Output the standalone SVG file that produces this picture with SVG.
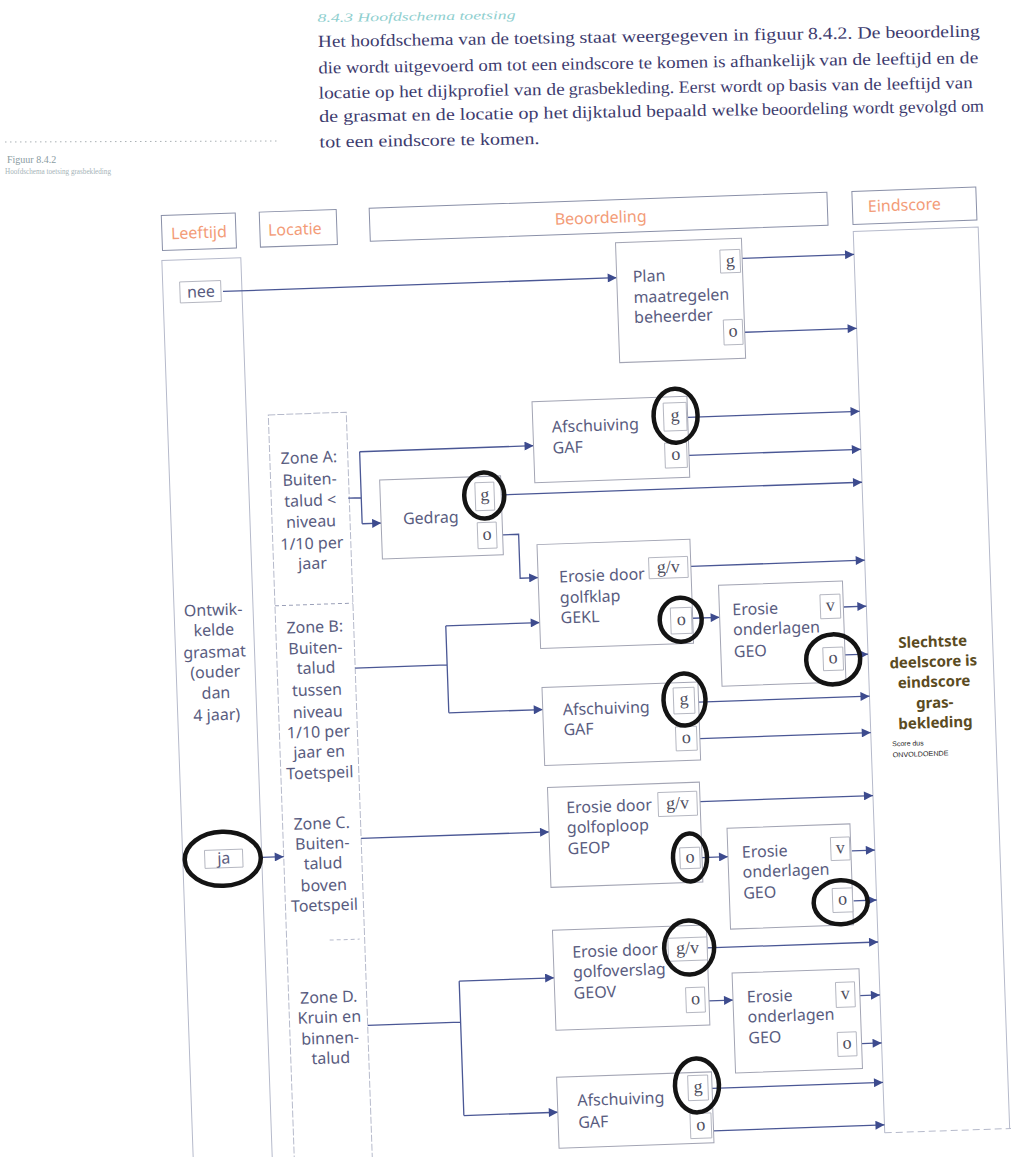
<svg xmlns="http://www.w3.org/2000/svg" width="1011" height="1157" viewBox="0 0 1011 1157">
<style>
.col{fill:none;stroke:#b6bacb;stroke-width:1}
.hdr{fill:#fff;stroke:#8a90a8;stroke-width:1}
.hdrt{font-family:"Noto Sans",sans-serif;font-size:16px;fill:#f39c78;text-anchor:middle}
.box{fill:#fff;stroke:#a3a5b4;stroke-width:1}
.lbl{fill:#fff;stroke:#aeb0bb;stroke-width:0.9}
.t{font-family:"Noto Sans",sans-serif;font-size:16px;fill:#595c80}
.tc{text-anchor:middle}
.s{font-family:"Liberation Serif",serif;font-size:18px;fill:#4e4e5e;text-anchor:middle}
.cn{fill:none;stroke:#4a5795;stroke-width:1.3}
.ar{marker-end:url(#ah)}
.ann{fill:none;stroke:#141414;stroke-width:4.5}
.par{font-family:"Liberation Serif",serif;font-size:17px;fill:#3d3b6e}
</style>
<defs>
<marker id="ah" viewBox="0 0 10 10" refX="10" refY="5" markerWidth="11" markerHeight="9" markerUnits="userSpaceOnUse" orient="auto"><path d="M0,0 L10,5 L0,10 z" fill="#3d4b8e"/></marker>
</defs>
<rect x="0" y="0" width="1011" height="1157" fill="#fff"/>

<g id="page-text" transform="rotate(-0.9 318 47)">
<text x="318" y="22" font-family="Liberation Serif, serif" font-style="italic" font-size="12" fill="#8fcfcf" textLength="198" lengthAdjust="spacingAndGlyphs">8.4.3 Hoofdschema toetsing</text>
<text class="par" x="318" y="47" textLength="257" lengthAdjust="spacingAndGlyphs">Het hoofdschema van de toetsing</text>
<text class="par" x="579.5" y="47" textLength="224" lengthAdjust="spacingAndGlyphs">staat weergegeven in figuur</text>
<text class="par" x="808" y="47" textLength="172" lengthAdjust="spacingAndGlyphs">8.4.2. De beoordeling</text>
<text class="par" x="318" y="73.5" textLength="239" lengthAdjust="spacingAndGlyphs">die wordt uitgevoerd om tot een</text>
<text class="par" x="561" y="73.5" textLength="254" lengthAdjust="spacingAndGlyphs">eindscore te komen is afhankelijk</text>
<text class="par" x="819" y="73.5" textLength="159" lengthAdjust="spacingAndGlyphs">van de leeftijd en de</text>
<text class="par" x="318" y="98.5" textLength="246" lengthAdjust="spacingAndGlyphs">locatie op het dijkprofiel van de</text>
<text class="par" x="568" y="98.5" textLength="216" lengthAdjust="spacingAndGlyphs">grasbekleding. Eerst wordt op</text>
<text class="par" x="788" y="98.5" textLength="184" lengthAdjust="spacingAndGlyphs">basis van de leeftijd van</text>
<text class="par" x="318" y="122" textLength="249" lengthAdjust="spacingAndGlyphs">de grasmat en de locatie op het</text>
<text class="par" x="571" y="122" textLength="186" lengthAdjust="spacingAndGlyphs">dijktalud bepaald welke</text>
<text class="par" x="761" y="122" textLength="222" lengthAdjust="spacingAndGlyphs">beoordeling wordt gevolgd om</text>
<text class="par" x="318" y="147.5" textLength="220" lengthAdjust="spacingAndGlyphs">tot een eindscore te komen.</text>
</g>

<g id="caption">
<line x1="5" y1="142" x2="278" y2="141" stroke="#a9b0b4" stroke-width="1" stroke-dasharray="1.5 3.5"/>
<text x="7" y="163" font-family="Liberation Serif, serif" font-size="10" fill="#8a9ca2">Figuur 8.4.2</text>
<text x="5" y="174" font-family="Liberation Serif, serif" font-size="8" fill="#a6b4b8" textLength="106" lengthAdjust="spacingAndGlyphs">Hoofdschema toetsing grasbekleding</text>
</g>

<g id="diagram" transform="rotate(-2 500 660)">

<g id="hdr-leeftijd"><rect class="hdr" x="177" y="204" width="74" height="35"/><text class="hdrt" x="214" y="228" fill="#f28c72">Leeftijd</text></g>
<g id="hdr-locatie"><rect class="hdr" x="275" y="204" width="77" height="35"/><text class="hdrt" x="310" y="228">Locatie</text></g>
<g id="hdr-beoordeling"><rect class="hdr" x="385" y="204" width="458" height="33" stroke="#70748a"/><text class="hdrt" x="616" y="227">Beoordeling</text></g>
<g id="hdr-eindscore"><rect class="hdr" x="868" y="204" width="124" height="33"/><text class="hdrt" x="920" y="225">Eindscore</text></g>

<g id="col-leeftijd">
<rect class="col" x="176" y="249" width="79" height="960"/>
<text class="t tc" x="215" y="605.5">Ontwik-</text>
<text class="t tc" x="215" y="625.5">kelde</text>
<text class="t tc" x="215" y="647.5">grasmat</text>
<text class="t tc" x="215" y="667.5">(ouder</text>
<text class="t tc" x="215" y="688.5">dan</text>
<text class="t tc" x="215" y="710.5">4 jaar)</text>
</g>
<g id="nee"><rect class="lbl" x="193" y="271" width="41" height="21"/><text class="t tc" x="214" y="287" font-size="15">nee</text></g>
<g id="ja"><rect class="lbl" x="198" y="840" width="38" height="18"/><text class="t tc" x="217" y="854" font-size="15" fill="#707080">ja</text></g>

<g id="col-zones">
<rect class="col" x="277" y="407" width="78" height="800" stroke-dasharray="7 2"/>
<line x1="277" y1="598" x2="355" y2="598" stroke="#9aa0b8" stroke-dasharray="4 3"/>
<line x1="320" y1="934" x2="350" y2="934" stroke="#b6bacb" stroke-dasharray="4 3"/>
</g>
<g id="zone-a">
<text class="t tc" x="316" y="456.5">Zone A:</text>
<text class="t tc" x="316" y="478.5">Buiten-</text>
<text class="t tc" x="316" y="499.5">talud &lt;</text>
<text class="t tc" x="316" y="520.5">niveau</text>
<text class="t tc" x="316" y="542.5">1/10 per</text>
<text class="t tc" x="316" y="562.5">jaar</text>
</g>
<g id="zone-b">
<text class="t tc" x="316" y="626">Zone B:</text>
<text class="t tc" x="316" y="647">Buiten-</text>
<text class="t tc" x="316" y="667">talud</text>
<text class="t tc" x="316" y="689">tussen</text>
<text class="t tc" x="316" y="711">niveau</text>
<text class="t tc" x="316" y="731">1/10 per</text>
<text class="t tc" x="316" y="751">jaar en</text>
<text class="t tc" x="316" y="772">Toetspeil</text>
</g>
<g id="zone-c">
<text class="t tc" x="316" y="822.5">Zone C.</text>
<text class="t tc" x="316" y="842.5">Buiten-</text>
<text class="t tc" x="316" y="862.5">talud</text>
<text class="t tc" x="316" y="884.5">boven</text>
<text class="t tc" x="316" y="904.5">Toetspeil</text>
</g>
<g id="zone-d">
<text class="t tc" x="317" y="996.5">Zone D.</text>
<text class="t tc" x="317" y="1016.5">Kruin en</text>
<text class="t tc" x="317" y="1037.5">binnen-</text>
<text class="t tc" x="317" y="1057.5">talud</text>
</g>

<g id="col-eindscore">
<path class="col" d="M868,1146 V244 H993 V1146"/>
<line x1="868" y1="1146" x2="1030" y2="1146" stroke="#b6bacb" stroke-dasharray="7 4"/>
<text x="933" y="662" text-anchor="middle" font-family="Noto Sans, sans-serif" font-weight="bold" font-size="15" fill="#5b4b22">Slechtste</text>
<text x="933" y="682" text-anchor="middle" font-family="Noto Sans, sans-serif" font-weight="bold" font-size="15" fill="#5b4b22">deelscore is</text>
<text x="933" y="702" text-anchor="middle" font-family="Noto Sans, sans-serif" font-weight="bold" font-size="15" fill="#5b4b22">eindscore</text>
<text x="933" y="723" text-anchor="middle" font-family="Noto Sans, sans-serif" font-weight="bold" font-size="15" fill="#5b4b22">gras-</text>
<text x="933" y="743" text-anchor="middle" font-family="Noto Sans, sans-serif" font-weight="bold" font-size="15" fill="#5b4b22">bekleding</text>
<text x="889" y="760" font-family="Liberation Sans, sans-serif" font-size="7" fill="#222">Score dus</text>
<text x="889" y="771" font-family="Liberation Sans, sans-serif" font-size="7" fill="#222" textLength="56" lengthAdjust="spacingAndGlyphs">ONVOLDOENDE</text>
</g>

<g id="connectors">
<path class="cn ar" d="M236,282 H630"/>
<path class="cn ar" d="M756,267 H868"/>
<path class="cn ar" d="M756,341 H868"/>
<path class="cn" d="M354,493 H367 M367,447 V519"/>
<path class="cn ar" d="M367,447 H541"/>
<path class="cn ar" d="M367,519 H386"/>
<path class="cn ar" d="M696,424 H868"/>
<path class="cn ar" d="M696,462 H868"/>
<path class="cn ar" d="M501,495 H868"/>
<path class="cn ar" d="M501,535 H523 V579 H541"/>
<path class="cn ar" d="M694,573 H868"/>
<path class="cn ar" d="M694,625 H721"/>
<path class="cn ar" d="M845,619 H868"/>
<path class="cn ar" d="M845,667 H868"/>
<path class="cn" d="M355,663 H447 M447,624 V711"/>
<path class="cn ar" d="M447,624 H541"/>
<path class="cn ar" d="M447,711 H541"/>
<path class="cn ar" d="M697,709 H868" stroke-width="2.2"/>
<path class="cn ar" d="M697,745.5 H868"/>
<path class="cn ar" d="M355,833.5 H543"/>
<path class="cn ar" d="M695,808.5 H868"/>
<path class="cn ar" d="M695,864.5 H721"/>
<path class="cn ar" d="M845,863 H868"/>
<path class="cn ar" d="M845,913 H868"/>
<path class="cn" d="M355,1020.5 H448 M448,979.5 V1114"/>
<path class="cn ar" d="M448,979.5 H543"/>
<path class="cn ar" d="M448,1114 H542"/>
<path class="cn ar" d="M697,955 H868"/>
<path class="cn ar" d="M697,1008 H721"/>
<path class="cn ar" d="M848,1008 H868"/>
<path class="cn ar" d="M848,1056 H868"/>
<path class="cn ar" d="M697,1095.5 H868"/>
<path class="cn ar" d="M697,1138 H868"/>
<path class="cn ar" d="M255,849 H277"/>
</g>

<g id="plan">
<rect class="box" x="630" y="247" width="126" height="120"/>
<text class="t" x="646" y="287">Plan</text>
<text class="t" x="646" y="308">maatregelen</text>
<text class="t" x="646" y="328">beheerder</text>
<rect class="lbl" x="734" y="258" width="20" height="23"/><text class="s" x="744" y="274.5">g</text>
<rect class="lbl" x="735" y="328" width="19" height="25"/><text class="s" x="744.5" y="345">o</text>
</g>

<g id="gaf-a">
<rect class="box" x="541" y="403" width="155" height="81"/>
<text class="t" x="560" y="434.5">Afschuiving</text>
<text class="t" x="560" y="455.5">GAF</text>
<rect class="lbl" x="672" y="409" width="23" height="28"/><text class="s" x="683.5" y="427">g</text>
<rect class="lbl" x="672" y="449" width="22" height="25"/><text class="s" x="683" y="466">o</text>
</g>

<g id="gedrag">
<rect class="box" x="386" y="476" width="121" height="79"/>
<text class="t" x="408" y="521">Gedrag</text>
<rect class="lbl" x="481" y="482" width="19" height="28"/><text class="s" x="490.5" y="500">g</text>
<rect class="lbl" x="482" y="522" width="19" height="26"/><text class="s" x="491.5" y="539.5">o</text>
</g>

<g id="gekl">
<rect class="box" x="541" y="546" width="153" height="104"/>
<text class="t" x="562" y="584.5">Erosie door</text>
<text class="t" x="562" y="605.5">golfklap</text>
<text class="t" x="562" y="625.5">GEKL</text>
<rect class="lbl" x="652" y="563" width="39" height="21"/><text class="s" x="671.5" y="578.5">g/v</text>
<rect class="lbl" x="672" y="614" width="21" height="26"/><text class="s" x="682.5" y="631.5">o</text>
</g>

<g id="geo-1">
<rect class="box" x="721" y="593" width="124" height="101"/>
<text class="t" x="734" y="623.5">Erosie</text>
<text class="t" x="734" y="643.5">onderlagen</text>
<text class="t" x="734" y="665.5">GEO</text>
<rect class="lbl" x="822" y="606" width="20" height="24"/><text class="s" x="832" y="622.5">v</text>
<rect class="lbl" x="823" y="659" width="20" height="23"/><text class="s" x="833" y="675">o</text>
</g>

<g id="gaf-b">
<rect class="box" x="541" y="689" width="156" height="78"/>
<text class="t" x="561" y="717.5">Afschuiving</text>
<text class="t" x="561" y="737.5">GAF</text>
<rect class="lbl" x="672" y="694" width="21" height="26"/><text class="s" x="682.5" y="711">g</text>
<rect class="lbl" x="673" y="733" width="21" height="24"/><text class="s" x="683.5" y="749.5">o</text>
</g>

<g id="geop">
<rect class="box" x="543" y="789" width="152" height="100"/>
<text class="t" x="561" y="815.5">Erosie door</text>
<text class="t" x="561" y="835.5">golfoploop</text>
<text class="t" x="561" y="856.5">GEOP</text>
<rect class="lbl" x="653" y="798" width="39" height="24"/><text class="s" x="672.5" y="815">g/v</text>
<rect class="lbl" x="673" y="854" width="20" height="21"/><text class="s" x="683" y="869">o</text>
</g>

<g id="geo-2">
<rect class="box" x="721" y="836" width="123" height="101"/>
<text class="t" x="735" y="866">Erosie</text>
<text class="t" x="735" y="886">onderlagen</text>
<text class="t" x="735" y="907">GEO</text>
<rect class="lbl" x="824" y="849" width="19" height="23"/><text class="s" x="833.5" y="865">v</text>
<rect class="lbl" x="824" y="900" width="20" height="24"/><text class="s" x="834" y="916.5">o</text>
</g>

<g id="geov">
<rect class="box" x="543" y="932" width="154" height="100"/>
<text class="t" x="562" y="960">Erosie door</text>
<text class="t" x="562" y="980">golfoverslag</text>
<text class="t" x="562" y="1001">GEOV</text>
<rect class="lbl" x="658" y="944" width="39" height="23"/><text class="s" x="677.5" y="960">g/v</text>
<rect class="lbl" x="674" y="994" width="19" height="25"/><text class="s" x="683.5" y="1011">o</text>
</g>

<g id="geo-3">
<rect class="box" x="721" y="981" width="127" height="100"/>
<text class="t" x="735" y="1011">Erosie</text>
<text class="t" x="735" y="1031">onderlagen</text>
<text class="t" x="735" y="1052">GEO</text>
<rect class="lbl" x="824" y="994" width="19" height="25"/><text class="s" x="833.5" y="1011">v</text>
<rect class="lbl" x="824" y="1044" width="19" height="24"/><text class="s" x="833.5" y="1060.5">o</text>
</g>

<g id="gaf-d">
<rect class="box" x="542" y="1079" width="155" height="71"/>
<text class="t" x="562" y="1108.5">Afschuiving</text>
<text class="t" x="562" y="1130.5">GAF</text>
<rect class="lbl" x="673" y="1082" width="20" height="25"/><text class="s" x="683" y="1099">g</text>
<rect class="lbl" x="674" y="1120" width="21" height="25"/><text class="s" x="684.5" y="1137">o</text>
</g>

<g id="annotations">
<ellipse class="ann" cx="684" cy="422" rx="22" ry="27"/>
<ellipse class="ann" cx="490" cy="495" rx="20" ry="23"/>
<ellipse class="ann" cx="682" cy="626" rx="21" ry="22"/>
<ellipse class="ann" cx="833" cy="671" rx="27" ry="25"/>
<ellipse class="ann" cx="683" cy="706" rx="21" ry="26"/>
<ellipse class="ann" cx="683" cy="864" rx="17" ry="24"/>
<ellipse class="ann" cx="832" cy="914" rx="27" ry="22"/>
<ellipse class="ann" cx="679" cy="954" rx="25" ry="27"/>
<ellipse class="ann" cx="682" cy="1092" rx="22" ry="27"/>
<ellipse class="ann" cx="216" cy="849" rx="38" ry="27"/>
</g>

</g>
</svg>
